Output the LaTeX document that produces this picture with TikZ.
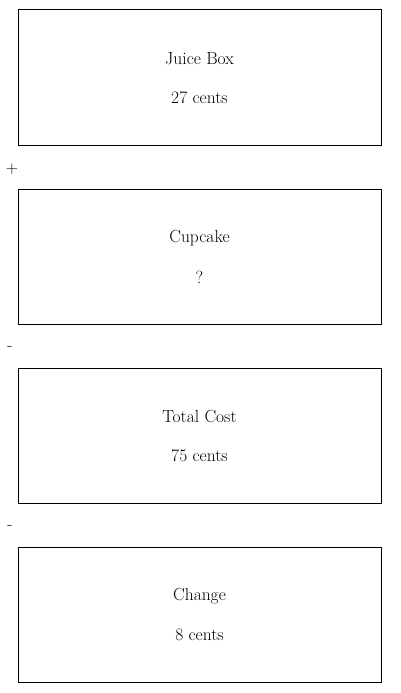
\documentclass[tikz,border=0pt]{standalone}
\begin{document}
\begin{tikzpicture}[x=1pt,y=-1pt,
  box/.style={draw=black,line width=1pt,minimum width=363pt,minimum height=135pt,inner sep=0pt},
  lbl/.style={font=\fontsize{17.5}{20}\selectfont,anchor=center},
  sign/.style={font=\fontsize{17}{19}\selectfont,anchor=center}]
\useasboundingbox (0,0) rectangle (400,693);
\node[box] (b1) at (199.5,77.5) {};
\node[box] (b2) at (199.5,256.5) {};
\node[box] (b3) at (199.5,435.5) {};
\node[box] (b4) at (199.5,614.5) {};
\node[lbl] (t1) at (199.5,59) {Juice Box};
\node[lbl] (v1) at (199.5,98) {27 cents};
\node[lbl] (t2) at (199.5,238) {Cupcake};
\node[lbl] (v2) at (199.5,277) {?};
\node[lbl] (t3) at (199.5,417) {Total Cost};
\node[lbl] (v3) at (199.5,456) {75 cents};
\node[lbl] (t4) at (199.5,596) {Change};
\node[lbl] (v4) at (199.5,635) {8 cents};
\node[sign] (s1) at (12,169.5) {+};
\node[sign] (s2) at (10,348.5) {-};
\node[sign] (s3) at (10,527.5) {-};
\end{tikzpicture}
\end{document}
